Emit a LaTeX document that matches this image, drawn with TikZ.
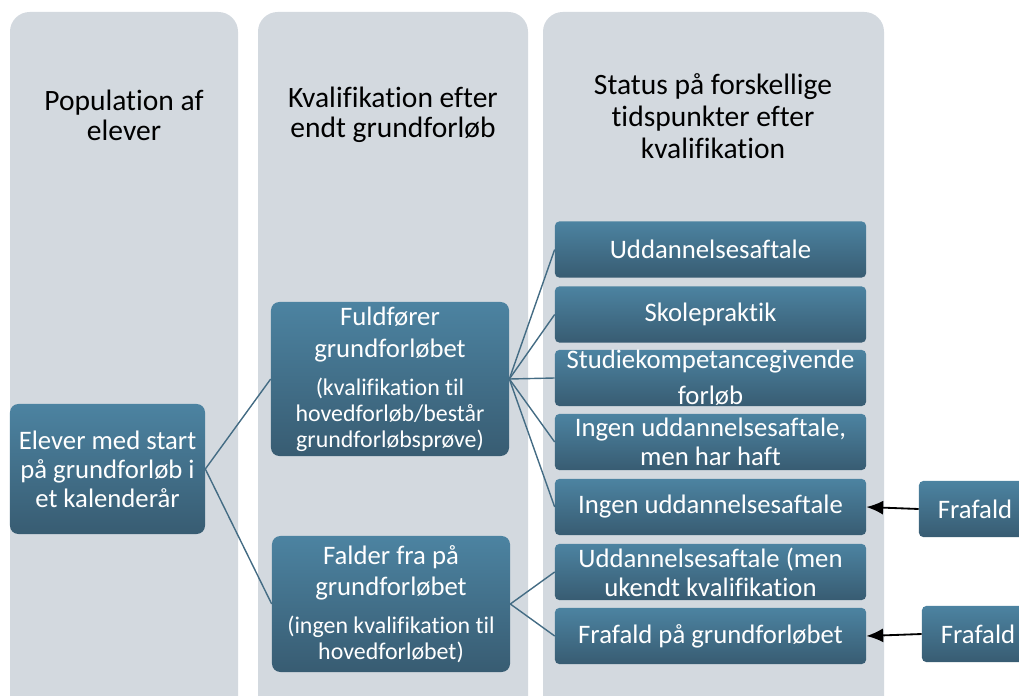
\documentclass[tikz,border=0pt]{standalone}
\usepackage{fontspec}
\setmainfont[Ligatures=NoCommon]{Carlito}
\usetikzlibrary{arrows.meta}

\definecolor{colgrey}{RGB}{211,217,223}
\definecolor{boxtop}{RGB}{76,131,161}
\definecolor{boxbot}{RGB}{56,92,114}
\definecolor{linkblue}{RGB}{68,108,132}

\begin{document}
\begin{tikzpicture}[x=0.025cm,y=-0.025cm,
    column/.style={fill=colgrey,rounded corners=14pt},
    head/.style={align=center,font=\fontsize{21}{21.3}\selectfont},
    box/.style={top color=boxtop,bottom color=boxbot,text=white,align=center,
      rounded corners=3pt,inner sep=0pt,font=\fontsize{19}{20.5}\selectfont},
    bigbox/.style={box,rounded corners=6pt},
    status/.style={box,minimum width=7.775cm,minimum height=1.4cm},
    dropout/.style={box,minimum width=2.8cm,minimum height=1.4cm},
    link/.style={draw=linkblue,line width=1pt},
    stopper/.style={-{Latex[length=12pt,width=10pt]},line width=1.3pt}]
  \useasboundingbox (0,0) rectangle (1019,696);
  \clip (0,0) rectangle (1019,696);
  \fill[column] (10,12) rectangle (238,730);
  \fill[column] (258,12) rectangle (528,730);
  \fill[column] (543,12) rectangle (884,730);
  \node[head] (h1) at (124,115) {Population af\\elever};
  \node[head] (h2) at (393,115) {Kvalifikation efter\\endt grundforløb};
  \node[head] (h3) at (713,116) {Status på forskellige\\[1.4pt]tidspunkter efter\\[1.4pt]kvalifikation};
  \node[bigbox,minimum width=4.875cm,minimum height=3.25cm] (elever) at (107.5,469)
    {Elever med start\\på grundforløb i\\et kalenderår};
  \node[bigbox,minimum width=5.95cm,minimum height=3.85cm] (full) at (390,379)
    {Fuldfører\\[2pt]grundforløbet\\[6.5pt]
     \fontsize{17}{18}\selectfont (kvalifikation til\\[-2pt]
     \fontsize{17}{18}\selectfont hovedforløb/består\\[-2pt]
     \fontsize{17}{18}\selectfont grundforløbsprøve)};
  \node[bigbox,minimum width=5.95cm,minimum height=3.4cm] (fald) at (391,604)
    {Falder fra på\\[1.5pt]grundforløbet\\[6.5pt]
     \fontsize{17}{18}\selectfont (ingen kvalifikation til\\[-2pt]
     \fontsize{17}{18}\selectfont hovedforløbet)};
  \node[status] (s1) at (710.5,249.5) {Uddannelsesaftale};
  \node[status] (s2) at (710.5,314.5) {Skolepraktik};
  \node[status] (s3) at (710.5,378) {Studiekompetancegivende\\[5pt]forløb};
  \node[status] (s4) at (710.5,442) {Ingen uddannelsesaftale,\\men har haft};
  \node[status] (s5) at (710.5,507) {Ingen uddannelsesaftale};
  \node[status] (s6) at (710.5,572) {Uddannelsesaftale (men\\ukendt kvalifikation};
  \node[status] (s7) at (710.5,636) {Frafald på grundforløbet};
  \node[dropout] (d1) at (975,509) {Frafald};
  \node[dropout] (d2) at (978,634) {Frafald};
  \draw[link] (elever.east) -- (full.west);
  \draw[link] (elever.east) -- (fald.west);
  \foreach \s in {s1,s2,s3,s4,s5}
    \draw[link] (full.east) -- (\s.west);
  \foreach \s in {s6,s7}
    \draw[link] (fald.east) -- (\s.west);
  \draw[stopper] (d1.west) -- (s5.east);
  \draw[stopper] (d2.west) -- (s7.east);
\end{tikzpicture}
\end{document}
